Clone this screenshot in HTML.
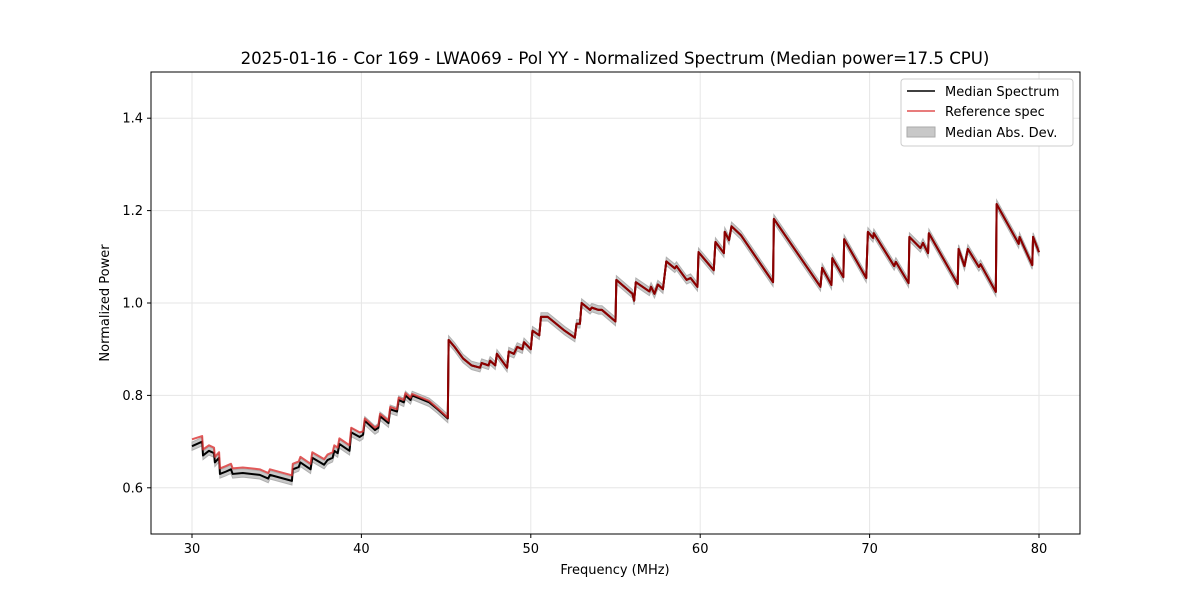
<!DOCTYPE html>
<html><head><meta charset="utf-8"><style>
body{margin:0;background:#fff;font-family:"Liberation Sans","DejaVu Sans",sans-serif}
svg text{font-family:"DejaVu Sans","Liberation Sans",sans-serif;fill:#000}
</style></head><body>
<svg id="chart" width="1200" height="600" xmlns="http://www.w3.org/2000/svg">
<text x="615" y="64" font-size="16.6" text-anchor="middle">2025-01-16 - Cor 169 - LWA069 - Pol YY - Normalized Spectrum (Median power=17.5 CPU)</text>
<g id="grid"></g><g id="series"></g><g id="axes"></g>
<text x="615" y="574" font-size="13" text-anchor="middle">Frequency (MHz)</text>
<text x="109" y="303" font-size="13" text-anchor="middle" transform="rotate(-90 109 303)">Normalized Power</text>
<g>
<rect x="901" y="79" width="172" height="67" fill="#fff" stroke="#ccc" rx="3"/>
<line x1="907" y1="91" x2="935" y2="91" stroke="#000" stroke-width="1.5"/>
<text x="945" y="96" font-size="13">Median Spectrum</text>
<line x1="907" y1="111" x2="935" y2="111" stroke="#e05050" stroke-width="1.5"/>
<text x="945" y="116" font-size="13">Reference spec</text>
<rect x="907" y="127" width="28" height="10" fill="#c8c8c8" stroke="#aaa"/>
<text x="945" y="137" font-size="13">Median Abs. Dev.</text>
</g>
</svg>
<script>
const freqs=[30.0,30.6,30.65,31.0,31.3,31.35,31.6,31.65,32.0,32.3,32.4,33.0,34.0,34.5,34.6,35.9,35.95,36.3,36.4,37.0,37.1,37.8,38.0,38.3,38.4,38.6,38.7,39.1,39.3,39.4,39.9,40.1,40.2,40.8,41.0,41.1,41.6,41.7,42.1,42.2,42.5,42.6,42.9,43.0,44.0,44.5,45.1,45.15,45.5,46.0,46.5,47.0,47.1,47.5,47.6,47.9,48.0,48.6,48.7,49.0,49.2,49.5,49.6,50.0,50.1,50.5,50.6,51.0,52.0,52.6,52.7,52.9,53.0,53.5,53.6,54.0,54.2,55.0,55.05,56.0,56.1,56.2,57.0,57.1,57.3,57.5,57.8,58.0,58.5,58.6,59.0,59.2,59.43,59.84,59.9,60.8,60.9,61.4,61.45,61.7,61.85,62.4,64.3,64.35,67.1,67.2,67.75,67.8,68.45,68.5,69.8,69.9,70.2,70.25,71.45,71.55,72.3,72.35,73.0,73.15,73.45,73.5,75.2,75.25,75.6,75.8,76.45,76.55,77.45,77.5,78.8,78.85,79.6,79.65,80.0];
const medianVals=[0.69,0.70,0.67,0.68,0.675,0.655,0.665,0.63,0.635,0.64,0.63,0.632,0.628,0.62,0.628,0.615,0.64,0.645,0.655,0.64,0.665,0.65,0.66,0.665,0.68,0.675,0.695,0.685,0.68,0.72,0.71,0.715,0.745,0.725,0.73,0.755,0.74,0.77,0.765,0.79,0.785,0.80,0.79,0.80,0.785,0.77,0.75,0.92,0.905,0.88,0.865,0.86,0.87,0.865,0.875,0.865,0.89,0.86,0.895,0.89,0.905,0.90,0.915,0.90,0.94,0.93,0.97,0.97,0.94,0.925,0.955,0.955,1.0,0.985,0.99,0.985,0.985,0.96,1.05,1.02,1.005,1.045,1.025,1.035,1.02,1.04,1.03,1.09,1.075,1.08,1.06,1.05,1.054,1.035,1.11,1.071,1.132,1.108,1.154,1.136,1.166,1.147,1.045,1.182,1.035,1.076,1.039,1.097,1.056,1.138,1.054,1.154,1.141,1.151,1.08,1.089,1.043,1.143,1.119,1.13,1.108,1.151,1.041,1.117,1.08,1.117,1.078,1.084,1.024,1.214,1.128,1.143,1.082,1.143,1.11];
const refVals=[0.705,0.712,0.683,0.692,0.687,0.667,0.677,0.642,0.647,0.652,0.642,0.644,0.64,0.632,0.64,0.627,0.652,0.657,0.667,0.652,0.677,0.662,0.672,0.677,0.692,0.687,0.707,0.697,0.692,0.73,0.72,0.722,0.75,0.73,0.735,0.76,0.745,0.775,0.77,0.795,0.79,0.805,0.795,0.803,0.788,0.772,0.752,0.92,0.905,0.88,0.865,0.86,0.87,0.865,0.875,0.865,0.89,0.86,0.895,0.89,0.905,0.90,0.915,0.90,0.94,0.93,0.97,0.97,0.94,0.925,0.955,0.955,1.0,0.985,0.99,0.985,0.985,0.96,1.05,1.02,1.005,1.045,1.025,1.035,1.02,1.04,1.03,1.09,1.075,1.08,1.06,1.05,1.054,1.035,1.11,1.071,1.132,1.108,1.154,1.136,1.166,1.147,1.045,1.182,1.035,1.076,1.039,1.097,1.056,1.138,1.054,1.154,1.141,1.151,1.08,1.089,1.043,1.143,1.119,1.13,1.108,1.151,1.041,1.117,1.08,1.117,1.078,1.084,1.024,1.214,1.128,1.143,1.082,1.143,1.11];
const madWidth=0.009;
const xTicks=[30,40,50,60,70,80];
const yTicks=[0.6,0.8,1.0,1.2,1.4];
const yTickLabels=["0.6","0.8","1.0","1.2","1.4"];
const X0=151,X1=1080,Y0=72,Y1=534,xmin=27.58,xmax=82.42,ymin=0.5,ymax=1.5;
const sx=f=>X0+(f-xmin)/(xmax-xmin)*(X1-X0);
const sy=v=>Y1-(v-ymin)/(ymax-ymin)*(Y1-Y0);
const NS="http://www.w3.org/2000/svg";
function mk(parent,tag,attrs){const e=document.createElementNS(NS,tag);for(const k in attrs)e.setAttribute(k,attrs[k]);document.getElementById(parent).appendChild(e);return e;}
xTicks.forEach((t,i)=>{
 const g=mk('grid','line',{x1:sx(t),x2:sx(t),y1:Y0,y2:Y1,stroke:'#e6e6e6','stroke-width':1});
 
 
 const tk=mk('axes','line',{x1:sx(t),x2:sx(t),y1:Y1,y2:Y1+4,stroke:'#000'});
 
 
 const tl=mk('axes','text',{x:sx(t),y:Y1+19,'font-size':13,'text-anchor':'middle'});
 tl.textContent=String(t);
 
 
});
yTicks.forEach((t,i)=>{
 const g=mk('grid','line',{x1:X0,x2:X1,y1:sy(t),y2:sy(t),stroke:'#e6e6e6','stroke-width':1});
 
 
 const tk=mk('axes','line',{x1:X0-4,x2:X0,y1:sy(t),y2:sy(t),stroke:'#000'});
 
 
 const tl=mk('axes','text',{x:X0-8,y:sy(t)+4.5,'font-size':13,'text-anchor':'end'});
 tl.textContent=yTickLabels[i];
 
 
});
const frame=mk('axes','rect',{x:X0,y:Y0,width:X1-X0,height:Y1-Y0,fill:'none',stroke:'#000','stroke-width':1});


let up=freqs.map((f,i)=>sx(f)+','+sy(medianVals[i]+madWidth));
let dn=freqs.map((f,i)=>sx(f)+','+sy(medianVals[i]-madWidth)).reverse();
const band=mk('series','polygon',{points:up.concat(dn).join(' '),fill:'#c8c8c8',stroke:'#b0b0b0','stroke-width':1});


const med=mk('series','polyline',{points:freqs.map((f,i)=>sx(f)+','+sy(medianVals[i])).join(' '),fill:'none',stroke:'#000','stroke-width':2,'stroke-linejoin':'round'});


const ref=mk('series','polyline',{points:freqs.map((f,i)=>sx(f)+','+sy(refVals[i])).join(' '),fill:'none',stroke:'#d93030','stroke-width':2,'stroke-opacity':0.8,'stroke-linejoin':'round'});


const ov=mk('series','polyline',{points:freqs.map((f,i)=>sx(f)+','+sy(medianVals[i])).filter((p,i)=>freqs[i]>=45).join(' '),fill:'none',stroke:'#8b0000','stroke-width':2,'stroke-linejoin':'round'});


</script>
</body></html>
